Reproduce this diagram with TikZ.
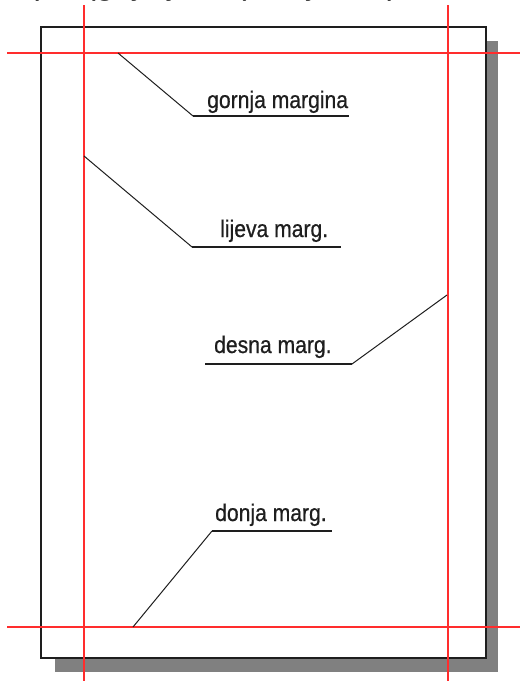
\documentclass[tikz,border=0pt]{standalone}
\usepackage{fontspec}
\setmainfont{Liberation Sans}
\newfontfamily\labelfont[FakeStretch=0.88,FakeBold=0.6]{Liberation Sans}
\definecolor{guide}{RGB}{255,45,45}
\definecolor{ink}{RGB}{30,30,30}
\begin{document}
\begin{tikzpicture}[x=1pt,y=-1pt,
  shadowbox/.style={fill=black!50,draw=none},
  pagebox/.style={draw=ink,line width=2pt,fill=white},
  guideline/.style={draw=guide,line width=2pt},
  leader/.style={draw=ink,line width=1pt},
  underline/.style={draw=ink,line width=1.6pt},
  marglabel/.style={anchor=base west,inner sep=0pt,
    font=\labelfont\fontsize{24}{24}\selectfont,text=ink}]
\useasboundingbox (0,0) rectangle (520,681);

% running text of the page above, cut at the top edge
\begin{scope}
  \clip (0,0) rectangle (520,12);
  \node[anchor=base west,inner sep=0pt,font=\fontsize{33}{33}\selectfont,text=ink]
    (runtext) at (15,-5.5) {opis (gdje je list), koje se podese u pisaču};
\end{scope}

% sheet with its drop shadow
\path[shadowbox] (55,41) rectangle (498,672);
\path[pagebox] (41,27) rectangle (486,658);

% margin guides
\coordinate (topL) at (7,53);    \coordinate (topR) at (520,53);
\coordinate (botL) at (7,627);   \coordinate (botR) at (520,627);
\coordinate (lefT) at (84,5);    \coordinate (lefB) at (84,681);
\coordinate (rigT) at (448,5);   \coordinate (rigB) at (448,681);
\draw[guideline] (topL) -- (topR);
\draw[guideline] (botL) -- (botR);
\draw[guideline] (lefT) -- (lefB);
\draw[guideline] (rigT) -- (rigB);

% labels
\node[marglabel] (gornja) at (207,108) {gornja margina};
\node[marglabel] (lijeva) at (220,237) {lijeva marg.};
\node[marglabel] (desna)  at (214,353) {desna marg.};
\node[marglabel] (donja)  at (215,521) {donja marg.};

% leader end points
\coordinate (gA) at (118,53);  \coordinate (gB) at (193,116); \coordinate (gC) at (349,116);
\coordinate (lA) at (84,156);  \coordinate (lB) at (192,247); \coordinate (lC) at (341,247);
\coordinate (dA) at (447,295); \coordinate (dB) at (352,364); \coordinate (dC) at (205,364);
\coordinate (nA) at (133,627); \coordinate (nB) at (212,531); \coordinate (nC) at (332,531);

% leaders
\draw[leader] (gA) -- (gB);  \draw[underline] (gB) -- (gC);
\draw[leader] (lA) -- (lB);  \draw[underline] (lB) -- (lC);
\draw[leader] (dA) -- (dB);  \draw[underline] (dB) -- (dC);
\draw[leader] (nA) -- (nB);  \draw[underline] (nB) -- (nC);
\end{tikzpicture}
\end{document}
